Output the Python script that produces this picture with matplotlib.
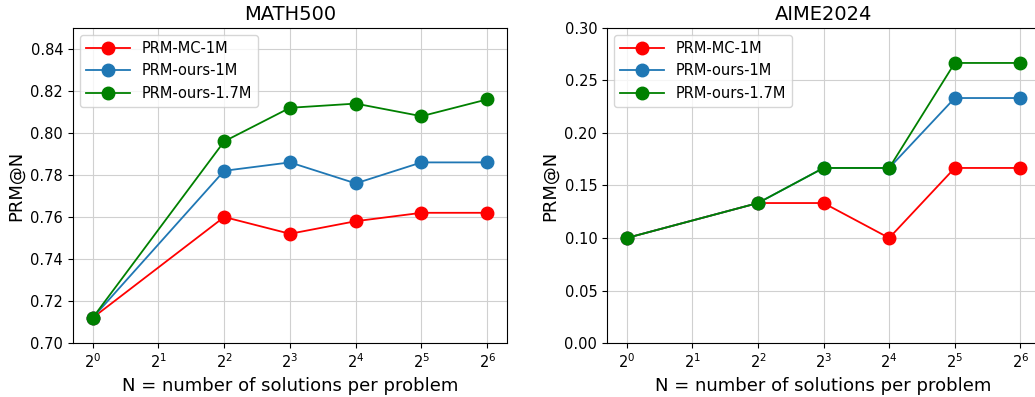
import matplotlib
matplotlib.use("Agg")
import matplotlib.pyplot as plt

# Data
n_solutions = [1, 4, 8, 16, 32, 64]
series_names = ["PRM-MC-1M", "PRM-ours-1M", "PRM-ours-1.7M"]
series_colors = ["red", "#1f77b4", "green"]

math500_mc_1m = [0.712, 0.760, 0.752, 0.758, 0.762, 0.762]
math500_ours_1m = [0.712, 0.782, 0.786, 0.776, 0.786, 0.786]
math500_ours_17m = [0.712, 0.796, 0.812, 0.814, 0.808, 0.816]

aime_mc_1m = [0.100, 0.1333, 0.1333, 0.100, 0.1667, 0.1667]
aime_ours_1m = [0.100, 0.1333, 0.1667, 0.1667, 0.2333, 0.2333]
aime_ours_17m = [0.100, 0.1333, 0.1667, 0.1667, 0.2667, 0.2667]

fig = plt.figure(figsize=(10.35, 3.97), dpi=100)
ax1 = fig.add_axes([0.0705, 0.136, 0.4193, 0.7935])
ax2 = fig.add_axes([0.5865, 0.136, 0.4184, 0.7935])

panels = [
    (ax1, "MATH500", [math500_mc_1m, math500_ours_1m, math500_ours_17m], (0.70, 0.85)),
    (ax2, "AIME2024", [aime_mc_1m, aime_ours_1m, aime_ours_17m], (0.0, 0.30)),
]

for ax, title, values, ylim in panels:
    for name, color, ys in zip(series_names, series_colors, values):
        ax.plot(n_solutions, ys, "-o", color=color, label=name,
                markersize=9, linewidth=1.3)
    ax.set_xscale("log", base=2)
    ax.set_xticks(n_solutions[:1] + [2] + n_solutions[1:])
    ax.set_ylim(*ylim)
    ax.set_title(title, fontsize=14)
    ax.set_xlabel("N = number of solutions per problem", fontsize=13)
    ax.set_ylabel("PRM@N", fontsize=13)
    ax.tick_params(labelsize=10.5)
    ax.grid(True, color="#d0d0d0", linewidth=0.8)
    ax.set_axisbelow(True)
    ax.legend(loc="upper left", fontsize=10.5, handlelength=3)

ax2.set_yticks([0.0, 0.05, 0.10, 0.15, 0.20, 0.25, 0.30])

fig.savefig("out.png", dpi=100)
